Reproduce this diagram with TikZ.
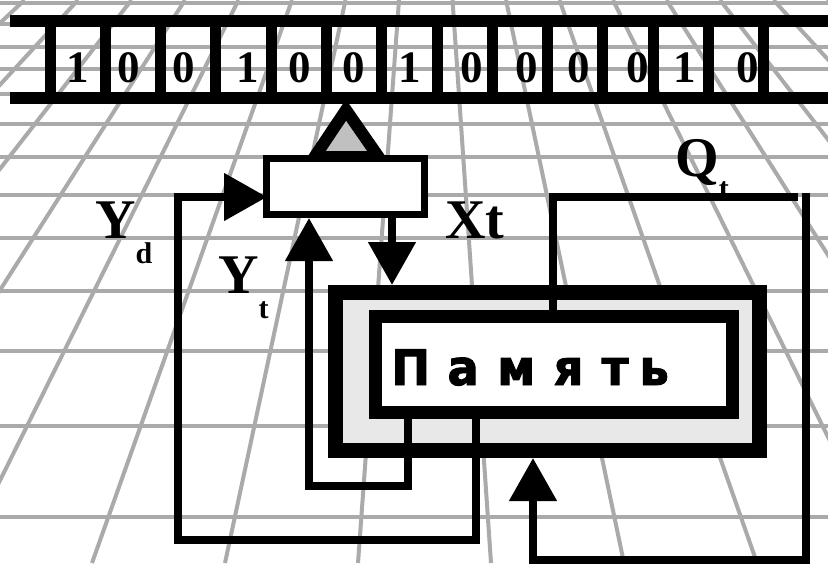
\documentclass[tikz,border=0pt]{standalone}
\usepackage{fontspec}
\setmainfont{Liberation Serif}
\newfontfamily\memfont{DejaVu Sans}[FakeStretch=0.95,FakeBold=2]
\usetikzlibrary{arrows.meta}
\definecolor{gridgray}{RGB}{170,170,170}
\definecolor{ptrgray}{RGB}{192,192,192}
\definecolor{memgray}{RGB}{232,232,232}

\begin{document}
\begin{tikzpicture}[x=1pt,y=-1pt,
  gridline/.style={draw=gridgray,line width=4pt},
  tapebar/.style={line width=12pt},
  tapesep/.style={line width=11pt},
  digit/.style={font=\fontsize{45}{45}\selectfont\bfseries,anchor=base,inner sep=0pt},
  conn/.style={line width=8pt},
  tip/.style={-{Triangle[length=43pt,width=46pt]}},
  lbl/.style={font=\fontsize{56}{56}\selectfont\bfseries,anchor=base west,inner sep=0pt},
]
\newcommand\subtxt[2][-25pt]{\raisebox{#1}{\fontsize{30}{30}\selectfont #2}}
\newcommand\lbox[2]{\makebox[#1pt][c]{#2}}
\useasboundingbox[fill=white] (0,0) rectangle (828,563);

% perspective floor grid
\begin{scope}
  \clip (0,0) rectangle (828,563);
  \foreach \y in {3,24,47,69,94,124,157,195,238,291,351,426,517}
    \draw[gridline] (0,\y) -- (828,\y);
  \foreach \k in {-7,...,8}
    \draw[gridline] ({399+53.5*\k},0) -- ({358+133*\k},563);
\end{scope}

% tape
\draw[tapebar] (10,21) -- (828,21);
\draw[tapebar] (10,97.5) -- (828,97.5);
\foreach \x in {45,100,155,210,266,321,376,432,487,542,597,648,703,758}
  \draw[tapesep] ({\x+5.5},21) -- ({\x+5.5},97.5);
\foreach \i/\x/\v in {1/78/1,2/129/0,3/184/0,4/248/1,5/300/0,6/354/0,7/410/1,
                      8/472/0,9/527/0,10/579/0,11/638/0,12/685/1,13/748/0}
  \node[digit] (d\i) at (\x,82) {\v};

% read/write head pointer
\draw[line width=12pt,fill=ptrgray,miter limit=10]
  (346,110) -- (378.6,157) -- (314.5,157) -- cycle;

% head box
\node[draw,line width=7pt,fill=white,minimum width=158pt,minimum height=56pt,inner sep=0pt]
  (head) at (345.5,186.5) {};

% memory block
\node[draw,line width=15pt,fill=memgray,minimum width=424pt,minimum height=158pt,inner sep=0pt]
  (memout) at (547.5,371.5) {};
\node[draw,line width=13pt,fill=white,minimum width=357pt,minimum height=96pt,inner sep=0pt]
  (memin) at (554,364.5) {};
\node[anchor=base west,inner sep=0pt,font=\memfont\bfseries\fontsize{49}{49}\selectfont]
  (memtext) at (384.25,385)
  {\lbox{52.5}{П}\lbox{52.5}{а}\lbox{53.5}{м}\lbox{51.25}{я}\lbox{42}{т}\lbox{36}{ь}};

% bend points of the connectors
\coordinate (ydbot) at (476,540);
\coordinate (ydleft) at (178,540);
\coordinate (ydin) at (267,197);
\coordinate (ytbot) at (408,486);
\coordinate (ytleft) at (309,486);
\coordinate (xtx) at (392,0);
\coordinate (qttop) at (553,197);
\coordinate (qtend) at (798,197);
\coordinate (fbtop) at (806,193);
\coordinate (fbbot) at (806,560);
\coordinate (fbleft) at (533,560);

% connectors
\draw[conn,tip] (memin.south -| ydbot) -- (ydbot) -- (ydleft) |- (ydin);
\draw[conn,tip] (memin.south -| ytbot) -- (ytbot) -- (ytleft) -- (head.south -| ytleft);
\draw[conn,tip] (head.south -| xtx) -- (memout.north -| xtx);
\draw[conn] (memin.north -| qttop) -- (qttop) -- (qtend);
\draw[conn,tip] (fbtop) -- (fbbot) -- (fbleft) -- (memout.south -| fbleft);

% labels
\node[lbl] (yd) at (95,238) {Y\subtxt{d}};
\node[lbl] (yt) at (218,293) {Y\subtxt{t}};
\node[lbl] (xt) at (445,238) {Xt};
\node[lbl] (qt) at (675,176) {Q\subtxt[-22pt]{t}};
\end{tikzpicture}
\end{document}
